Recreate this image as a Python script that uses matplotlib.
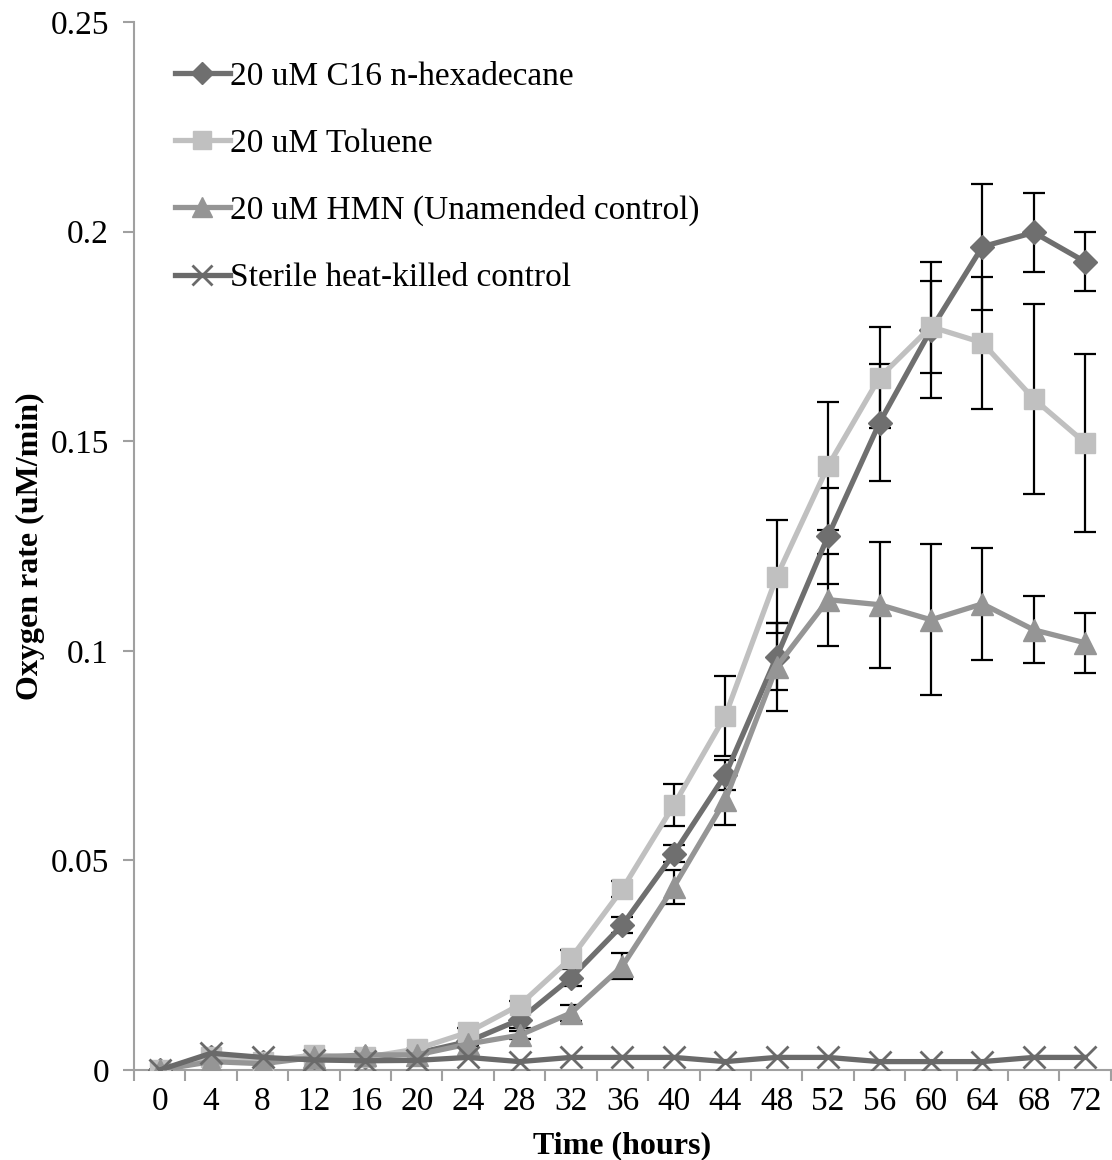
import matplotlib
matplotlib.use("Agg")
import matplotlib.pyplot as plt
import numpy as np

plt.rcParams['font.family'] = ['Liberation Serif', 'DejaVu Serif']

# Time points (hours)
hours = list(range(0, 76, 4))

# Oxygen rate (uM/min) per treatment
hexadecane = [0, 0.003, 0.002, 0.003, 0.003, 0.004, 0.0068, 0.012, 0.022, 0.0346, 0.0516,
              0.0704, 0.0986, 0.1274, 0.1544, 0.1766, 0.1964, 0.1998, 0.1928]
hexadecane_err = [0, 0, 0, 0, 0, 0, 0.001, 0.002, 0.002, 0.002, 0.002,
                  0.0036, 0.008, 0.0115, 0.014, 0.0162, 0.015, 0.0095, 0.007]

toluene = [0, 0.003, 0.002, 0.0036, 0.003, 0.005, 0.009, 0.0155, 0.0267, 0.0432, 0.0632,
           0.0845, 0.1177, 0.1441, 0.1652, 0.1773, 0.1735, 0.1601, 0.1496]
toluene_err = [0, 0, 0, 0, 0, 0, 0.001, 0.001, 0.002, 0.002, 0.005,
               0.0095, 0.0135, 0.0153, 0.012, 0.011, 0.0157, 0.0227, 0.0213]

hmn = [0, 0.002, 0.0015, 0.003, 0.0036, 0.0036, 0.0062, 0.0083, 0.0136, 0.0248, 0.0437,
       0.0644, 0.0962, 0.1122, 0.111, 0.1074, 0.1112, 0.105, 0.1019]
hmn_err = [0, 0, 0, 0, 0, 0, 0, 0.001, 0.002, 0.003, 0.004,
           0.006, 0.0105, 0.011, 0.015, 0.018, 0.0134, 0.008, 0.0072]

sterile = [0, 0.004, 0.003, 0.0024, 0.0022, 0.0023, 0.003, 0.002, 0.003, 0.003, 0.003,
           0.002, 0.003, 0.003, 0.002, 0.002, 0.002, 0.003, 0.003]

fig = plt.figure(figsize=(11.12, 11.6), dpi=100)
ax = fig.add_axes([0.1205, 0.0776, 0.8785, 0.9034])

err_kw = dict(fmt='none', ecolor='black', elinewidth=1.6, capsize=8, capthick=1.6, zorder=2)
ax.errorbar(hours, hexadecane, yerr=hexadecane_err, **err_kw)
ax.errorbar(hours, toluene, yerr=toluene_err, **err_kw)
ax.errorbar(hours, hmn, yerr=hmn_err, **err_kw)

l1, = ax.plot(hours, hexadecane, color='#6f6f6f', lw=3.8, marker='D', ms=12,
              zorder=3, label='20 uM C16 n-hexadecane')
l2, = ax.plot(hours, toluene, color='#c0c0c0', lw=3.8, marker='s', ms=14,
              zorder=3, label='20 uM Toluene')
l3, = ax.plot(hours, hmn, color='#959595', lw=3.8, marker='^', ms=16,
              zorder=3, label='20 uM HMN (Unamended control)')
l4, = ax.plot(hours, sterile, color='#6a6a6a', lw=3.8, marker='x', ms=16, mew=2,
              zorder=4, label='Sterile heat-killed control')

ax.set_xlim(-2, 74)
ax.set_ylim(0, 0.25)
ax.set_xticks(hours)
ax.set_xticklabels([str(h) for h in hours])
ax.set_xticks(np.arange(-2, 75, 4), minor=True)
ax.tick_params(axis='x', which='major', length=0, labelsize=24, pad=12)
ax.tick_params(axis='x', which='minor', length=8, color='#a0a0a0', width=1.5)
ax.set_yticks([0, 0.05, 0.1, 0.15, 0.2, 0.25])
ax.set_yticklabels(['0', '0.05', '0.1', '0.15', '0.2', '0.25'])
ax.tick_params(axis='y', length=8, color='#a0a0a0', width=1.5, labelsize=24, pad=10)

for side in ['top', 'right']:
    ax.spines[side].set_visible(False)
for side in ['left', 'bottom']:
    ax.spines[side].set_color('#a0a0a0')
    ax.spines[side].set_linewidth(1.5)

ax.set_xlabel('Time (hours)', fontsize=23, fontweight='bold', labelpad=10)
ax.set_ylabel('Oxygen rate (uM/min)', fontsize=23, fontweight='bold', labelpad=4)

ax.legend(handles=[l1, l2, l3, l4], loc='upper left', bbox_to_anchor=(0.011, 0.991),
          frameon=False, fontsize=24, handlelength=1.65, handletextpad=0.0,
          labelspacing=1.09, markerscale=0.9)

fig.savefig('out.png', dpi=100)
